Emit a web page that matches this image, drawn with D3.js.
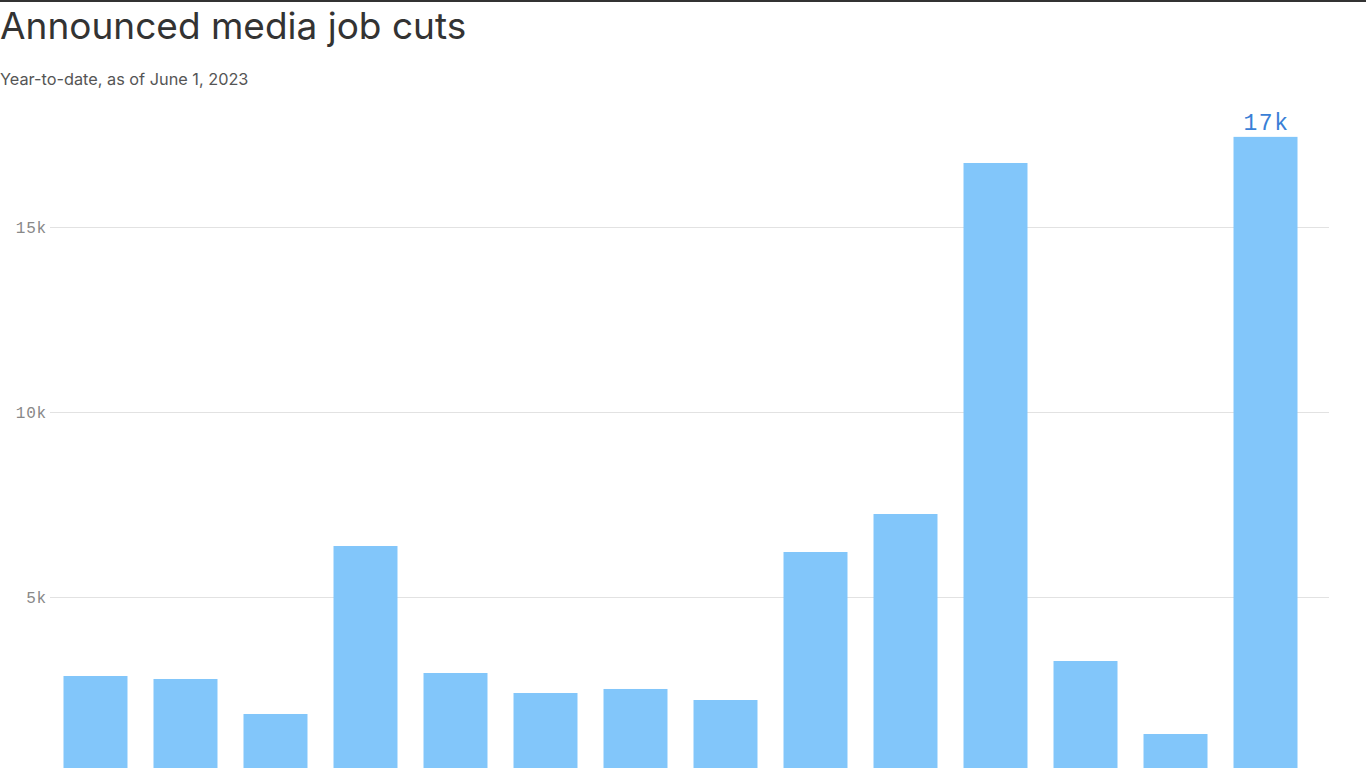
<!DOCTYPE html>
<html>
<head>
<meta charset="utf-8">
<script src="https://cdn.jsdelivr.net/npm/d3@7"></script>
<style>
  html, body { margin: 0; padding: 0; background: #fff; overflow: hidden; }
  body { width: 1366px; height: 768px; }
  .title { font-family: Inter, "Noto Sans", sans-serif; }
  .mono { font-family: "Liberation Mono", "DejaVu Sans Mono", monospace; }
</style>
</head>
<body>
<svg id="chart" width="1366" height="768"></svg>
<script>
const years = ["2010","2011","2012","2013","2014","2015","2016","2017","2018","2019","2020","2021","2022","2023"];
const jobCuts = [2865, 2784, 1838, 6378, 2946, 2405, 2514, 2216, 6216, 7243, 16730, 3270, 1297, 17436];
const yTicks = [5000, 10000, 15000];
const yTickLabels = ["5k", "10k", "15k"];
const highlightLabel = "17k";

const svg = d3.select("#chart");
const W = 1366;

// top rule
svg.append("line").attr("x1", 0).attr("x2", W).attr("y1", 1).attr("y2", 1)
  .attr("stroke", "#333").attr("stroke-width", 2);

svg.append("text").attr("class", "title")
  .attr("x", 0).attr("y", 39)
  .attr("font-size", 37).attr("fill", "#333").attr("font-weight", 400)
  .text("Announced media job cuts");

svg.append("text").attr("class", "title")
  .attr("x", 0).attr("y", 85)
  .attr("font-size", 16.3).attr("fill", "#555")
  .text("Year-to-date, as of June 1, 2023");

const y = d3.scaleLinear().domain([0, 5000]).range([782, 597]);
const x = d3.scaleBand().domain(years).range([50, 1311]).paddingInner(0.289).paddingOuter(0.15);

// grid
const grid = svg.append("g");
grid.selectAll("line").data(yTicks).join("line")
  .attr("x1", 50).attr("x2", 1329)
  .attr("y1", d => Math.round(y(d)) + 0.5).attr("y2", d => Math.round(y(d)) + 0.5)
  .attr("stroke", "#e2e2e2").attr("stroke-width", 1);
grid.selectAll("text").data(yTicks).join("text")
  .attr("class", "mono")
  .attr("x", 47).attr("y", d => y(d) + 5.5)
  .attr("text-anchor", "end")
  .attr("font-size", 16).attr("fill", "#888").attr("letter-spacing", 0.8)
  .text((d, i) => yTickLabels[i]);

// bars
svg.append("g").selectAll("rect").data(years).join("rect")
  .attr("x", d => x(d))
  .attr("width", x.bandwidth())
  .attr("y", (d, i) => y(jobCuts[i]))
  .attr("height", (d, i) => Math.max(0, Math.min(768, y(0)) - y(jobCuts[i])))
  .attr("fill", "#82c6fa");

// highlight label
const last = years[years.length - 1];
svg.append("text").attr("class", "mono")
  .attr("x", x(last) + x.bandwidth() / 2 + 1)
  .attr("y", y(jobCuts[jobCuts.length - 1]) - 7)
  .attr("text-anchor", "middle")
  .attr("font-size", 23).attr("fill", "#3a7fd6").attr("letter-spacing", 1.5)
  .text(highlightLabel);
</script>
</body>
</html>
